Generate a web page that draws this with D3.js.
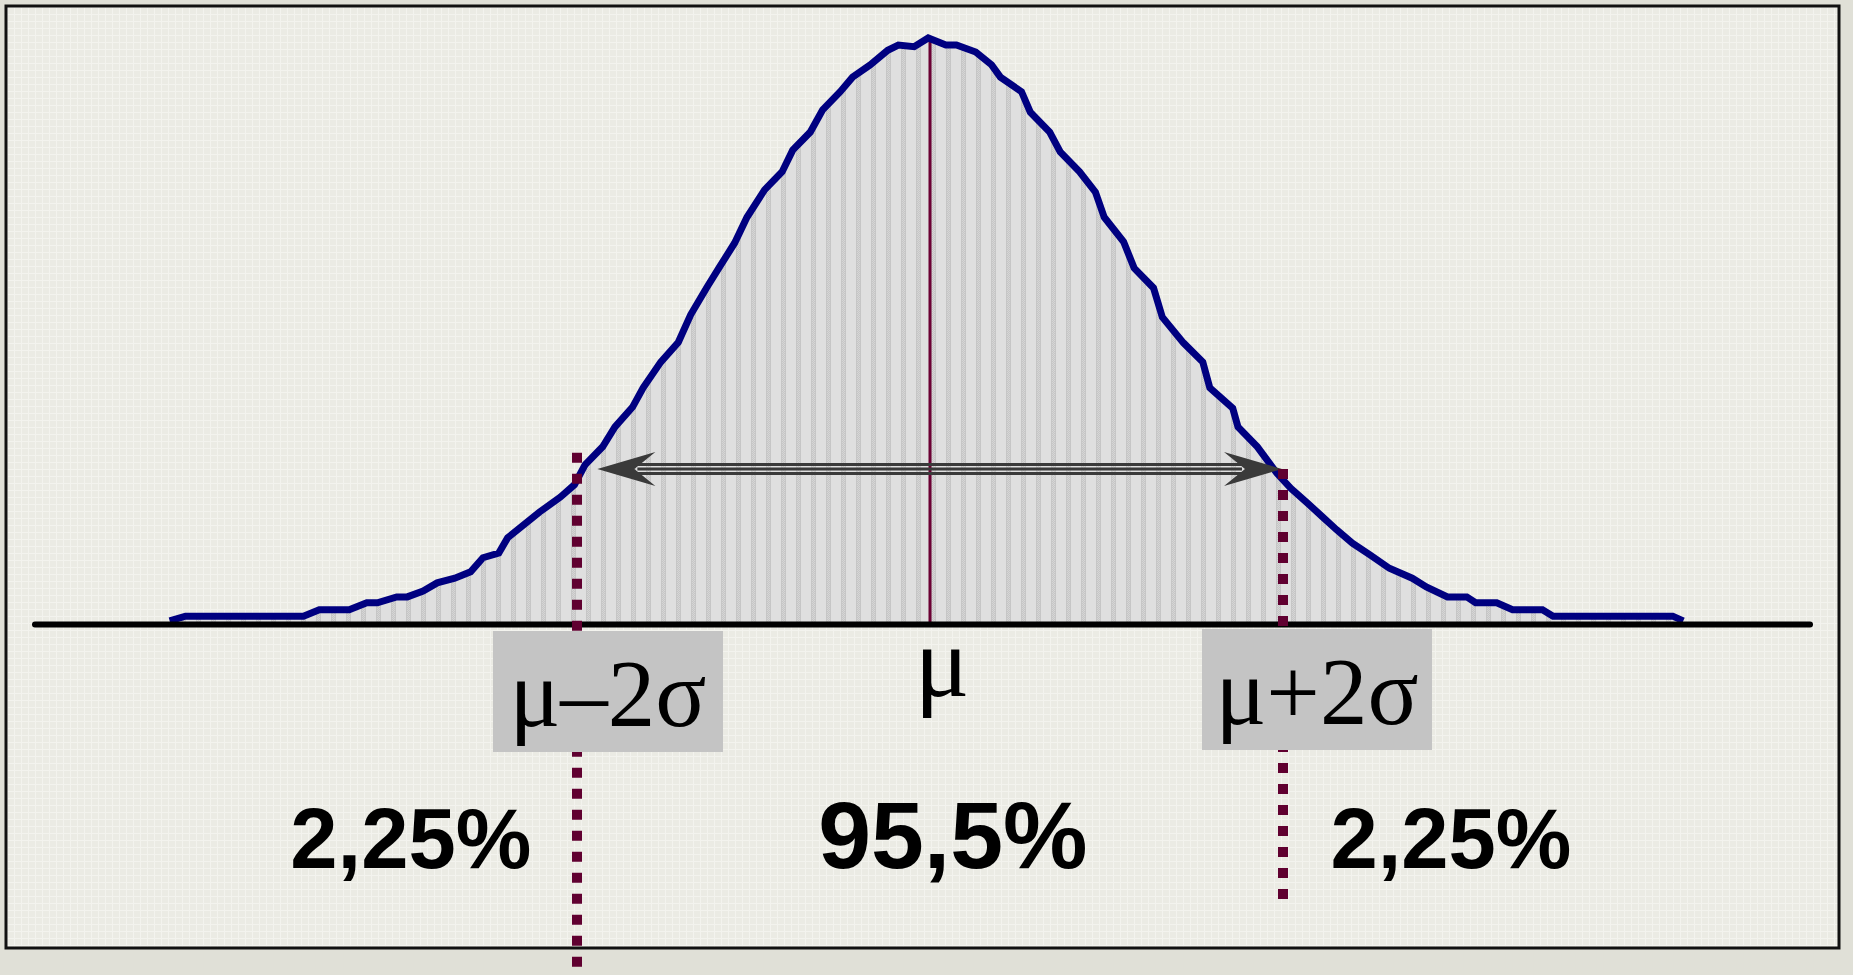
<!DOCTYPE html>
<html>
<head>
<meta charset="utf-8">
<script src="https://cdn.jsdelivr.net/npm/d3@7/dist/d3.min.js"></script>
<style>
    body { margin: 0; background: #e0e0d7; overflow: hidden; }
    .sig { font-family: "Liberation Serif", "Times New Roman", serif; fill: #000; }
    .pct { font-family: "Liberation Sans", Arial, sans-serif; font-weight: bold; fill: #000; }
</style>
</head>
<body>
<svg width="1853" height="975"></svg>

<script>

// curve: z in sigma units, p = height relative to the peak
var curveZ = [-4.32, -4.23, -3.56, -3.47, -3.30, -3.20, -3.14, -3.03, -2.97, -2.88, -2.80, -2.70, -2.61, -2.54, -2.45,
              -2.40, -2.22, -2.10, -2.02, -1.96, -1.86, -1.79, -1.69, -1.63, -1.53, -1.43, -1.36, -1.27, -1.20, -1.11,
              -1.04, -0.94, -0.84, -0.78, -0.68, -0.61, -0.51, -0.44, -0.34, -0.24, -0.18, -0.09, -0.01,
              0.09, 0.15, 0.26, 0.35, 0.40, 0.52, 0.57, 0.68, 0.74, 0.85, 0.94, 0.99, 1.10, 1.16, 1.27, 1.32,
              1.44, 1.55, 1.59, 1.72, 1.75, 1.86, 1.97, 2.05, 2.14, 2.23, 2.31, 2.40, 2.50, 2.61, 2.74, 2.82,
              2.94, 3.05, 3.10, 3.22, 3.31, 3.48, 3.54, 4.22, 4.28];
var curveP = [0.002, 0.010, 0.010, 0.021, 0.021, 0.033, 0.033, 0.043, 0.043, 0.053, 0.067, 0.075, 0.086, 0.110, 0.118,
              0.144, 0.188, 0.214, 0.235, 0.269, 0.300, 0.334, 0.368, 0.401, 0.445, 0.479, 0.526, 0.572, 0.606, 0.649,
              0.693, 0.740, 0.771, 0.808, 0.839, 0.877, 0.908, 0.933, 0.954, 0.979, 0.988, 0.985, 1.000,
              0.988, 0.988, 0.976, 0.954, 0.933, 0.908, 0.873, 0.839, 0.805, 0.771, 0.736, 0.693, 0.651, 0.606, 0.572, 0.522,
              0.478, 0.445, 0.401, 0.366, 0.334, 0.300, 0.255, 0.229, 0.205, 0.180, 0.158, 0.135, 0.115, 0.092, 0.075, 0.060,
              0.043, 0.043, 0.033, 0.033, 0.021, 0.021, 0.010, 0.010, 0.002];

var sigmaMarks = [-2, 2];
var sigmaLabels = ["μ–2σ", "μ+2σ"];
var sigmaTop = [0.29, 0.262];      // where the dotted lines start (relative height)
var meanLabel = "μ";
var arrowLevel = 0.262;
var pctLabels = ["2,25%", "95,5%", "2,25%"];
var pctZ = [-2.95, 0.13, 2.96];

var data = curveZ.map(function(z, i) { return {z: z, p: curveP[i]}; });

var svg = d3.select("svg");
var defs = svg.append("defs");

// background texture
var grid = defs.append("pattern").attr("id", "grid")
    .attr("patternUnits", "userSpaceOnUse").attr("width", 7).attr("height", 7);
grid.append("rect").attr("width", 7).attr("height", 7).attr("fill", "#ebebe4");
grid.append("rect").attr("width", 7).attr("height", 1).attr("fill", "#f3f3ee");
grid.append("rect").attr("width", 1).attr("height", 7).attr("fill", "#f3f3ee");

// vertical stripes of the histogram fill
var stripes = defs.append("pattern").attr("id", "stripes")
    .attr("patternUnits", "userSpaceOnUse").attr("x", 1).attr("width", 15).attr("height", 2);
stripes.append("rect").attr("width", 15).attr("height", 2).attr("fill", "#dfdfdf");
stripes.append("rect").attr("width", 5).attr("height", 2).attr("fill", "#c6c6c6");
stripes.append("rect").attr("x", 1).attr("width", 1).attr("height", 1).attr("fill", "#d6d6d6");
stripes.append("rect").attr("x", 3).attr("width", 1).attr("height", 1).attr("fill", "#d6d6d6");
stripes.append("rect").attr("x", 2).attr("y", 1).attr("width", 1).attr("height", 1).attr("fill", "#d6d6d6");

// frame
svg.append("rect")
    .attr("x", 6).attr("y", 6).attr("width", 1833).attr("height", 942)
    .attr("fill", "url(#grid)").attr("stroke", "#111").attr("stroke-width", 3);

var x = d3.scaleLinear().domain([-4, 4]).range([930 - 4 * 176, 930 + 4 * 176]);
var y = d3.scaleLinear().domain([0, 1]).range([622, 38]);

var area = d3.area()
    .x(function(d) { return x(d.z); })
    .y0(y(0))
    .y1(function(d) { return y(d.p); });

var line = d3.line()
    .x(function(d) { return x(d.z); })
    .y(function(d) { return y(d.p); });

svg.append("path").datum(data)
    .attr("d", area)
    .attr("fill", "url(#stripes)");

// mean line
svg.append("line")
    .attr("x1", x(0)).attr("x2", x(0))
    .attr("y1", y(d3.max(curveP))).attr("y2", y(0))
    .attr("stroke", "#6b0033").attr("stroke-width", 3);

svg.append("path").datum(data)
    .attr("d", line)
    .attr("fill", "none")
    .attr("stroke", "#000080")
    .attr("stroke-width", 7);

// baseline
svg.append("line")
    .attr("x1", 35).attr("x2", 1810)
    .attr("y1", 624.5).attr("y2", 624.5)
    .attr("stroke", "#000").attr("stroke-width", 6)
    .attr("stroke-linecap", "round");

// double arrow between mu-2sigma and mu+2sigma
var ay = y(arrowLevel);
var xl = x(-1.89), xr = x(2.0);
var shaft = svg.append("g");
[-4.5, 0, 4.5].forEach(function(o) {
    shaft.append("line")
        .attr("x1", xl + 40).attr("x2", xr - 40)
        .attr("y1", ay + o).attr("y2", ay + o)
        .attr("stroke", "#3a3a3a").attr("stroke-width", 2.8);
});
[[xl, 1], [xr, -1]].forEach(function(a) {
    var t = a[0], s = a[1];
    svg.append("path")
        .attr("d", "M" + t + "," + ay +
                   "L" + (t + s * 58) + "," + (ay - 17) +
                   "L" + (t + s * 37) + "," + ay +
                   "L" + (t + s * 58) + "," + (ay + 17) + "Z")
        .attr("fill", "#3a3a3a");
});

// dotted lines at mu +/- 2 sigma
var dotEnd = [975, 906];
sigmaMarks.forEach(function(m, i) {
    svg.append("line")
        .attr("x1", x(m) + (i ? 1 : -1)).attr("x2", x(m) + (i ? 1 : -1))
        .attr("y1", y(sigmaTop[i])).attr("y2", dotEnd[i])
        .attr("stroke", "#600030").attr("stroke-width", 10)
        .attr("stroke-dasharray", "10 11");
});

// label boxes
var boxY = [631, 629];
sigmaMarks.forEach(function(m, i) {
    var cx = x(m) + (i ? 35 : 30);
    svg.append("rect")
        .attr("x", cx - 115).attr("y", boxY[i])
        .attr("width", 230).attr("height", 121)
        .attr("fill", "#c4c4c4");
    svg.append("text")
        .attr("class", "sig")
        .attr("x", cx).attr("y", boxY[i] + 95)
        .attr("text-anchor", "middle")
        .attr("font-size", 95)
        .text(sigmaLabels[i]);
});

svg.append("text")
    .attr("class", "sig")
    .attr("x", x(0) + 12).attr("y", 696)
    .attr("text-anchor", "middle")
    .attr("font-size", 102)
    .text(meanLabel);

var pctSize = [85, 95, 85];
pctLabels.forEach(function(t, i) {
    svg.append("text")
        .attr("class", "pct")
        .attr("x", x(pctZ[i])).attr("y", 868)
        .attr("text-anchor", "middle")
        .attr("font-size", pctSize[i])
        .text(t);
});

</script>
</body>
</html>
